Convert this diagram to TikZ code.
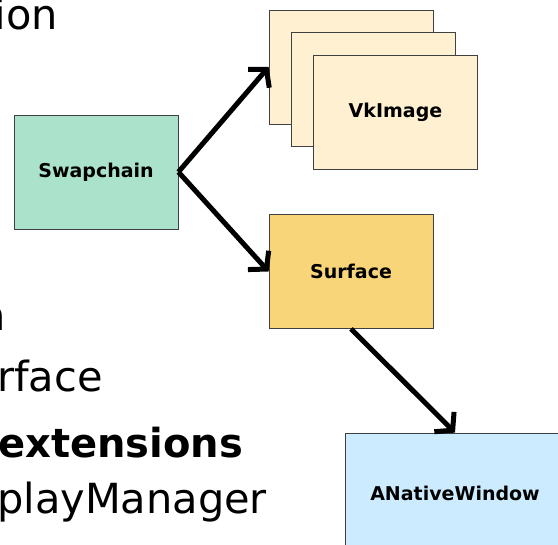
\documentclass[tikz,border=0pt]{standalone}
\usepackage{fontspec}
\setmainfont{DejaVu Sans}
\usetikzlibrary{arrows.meta}

\definecolor{vertswap}{RGB}{171,226,203}
\definecolor{creme}{RGB}{254,240,208}
\definecolor{jaune}{RGB}{249,213,122}
\definecolor{bleuclair}{RGB}{204,235,254}
\definecolor{bord}{RGB}{64,64,64}

\tikzset{
  boite/.style={draw=bord, line width=0.8pt, minimum width=164pt, minimum height=114pt,
    inner sep=0pt, font=\bfseries\fontsize{19}{22}\selectfont},
  fleche/.style={line width=5pt, -{Straight Barb[length=12pt,width=28pt]}},
  texte/.style={inner sep=0pt, font=\fontsize{41.5}{48}\selectfont}
}

\begin{document}
\begin{tikzpicture}[x=1pt,y=-1pt]
\useasboundingbox (0,0) rectangle (558,545);
\clip (0,0) rectangle (558,545);

% bouts de texte du transparent
\node[texte,anchor=base east] (ligneA) at (58,30) {ion};
\node[texte,anchor=base east] (ligneB) at (6.5,331) {n};
\node[texte,anchor=base west] (ligneC) at (-3,392) {rface};
\node[texte,anchor=base west,font=\bfseries\fontsize{40}{46}\selectfont] (ligneD) at (-2,458) {extensions};
\node[texte,anchor=base west] (ligneE) at (-3,514) {playManager};

% boites
\node[boite,fill=vertswap] (swap) at (96,172) {Swapchain};
\node[boite,fill=creme] (img3) at (351,67) {};
\node[boite,fill=creme] (img2) at (373,89) {};
\node[boite,fill=creme] (img1) at (395.5,112) {VkImage};
\node[boite,fill=jaune] (surf) at (351,271.5) {Surface};
\node[boite,fill=bleuclair,minimum width=220pt,minimum height=120pt] (win) at (455,493) {ANativeWindow};

% fleches
\draw[fleche] (swap.east) -- (img3.west);
\draw[fleche] (swap.east) -- (surf.west);
\draw[fleche] (surf.south) -- (win.north);

\end{tikzpicture}
\end{document}
